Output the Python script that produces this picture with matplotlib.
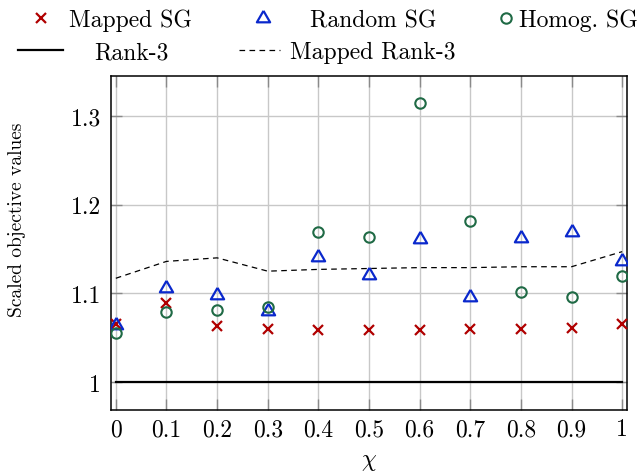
import matplotlib
matplotlib.use("Agg")
import matplotlib.pyplot as plt
from matplotlib.lines import Line2D

plt.rcParams['font.family'] = ['cmr10', 'DejaVu Serif']
plt.rcParams['mathtext.fontset'] = 'cm'
plt.rcParams['axes.unicode_minus'] = False

chi = [0.0, 0.1, 0.2, 0.3, 0.4, 0.5, 0.6, 0.7, 0.8, 0.9, 1.0]
mapped_sg = [1.065, 1.089, 1.063, 1.060, 1.059, 1.059, 1.059, 1.060, 1.060, 1.061, 1.065]
random_sg = [1.064, 1.106, 1.098, 1.080, 1.141, 1.121, 1.161, 1.096, 1.162, 1.169, 1.137]
homog_sg = [1.055, 1.079, 1.081, 1.085, 1.169, 1.164, 1.314, 1.182, 1.102, 1.096, 1.119]
rank3 = [1.0] * 11
mapped_rank3 = [1.117, 1.136, 1.140, 1.125, 1.127, 1.128, 1.129, 1.129, 1.130, 1.130, 1.147]

xticks = [0, 0.1, 0.2, 0.3, 0.4, 0.5, 0.6, 0.7, 0.8, 0.9, 1.0]
xticklabels = ['0', '0.1', '0.2', '0.3', '0.4', '0.5', '0.6', '0.7', '0.8', '0.9', '1']
yticks = [1.0, 1.1, 1.2, 1.3]
yticklabels = ['1', '1.1', '1.2', '1.3']

RED = '#b00000'
BLUE = '#0a28cc'
GREEN = '#1f6a45'
TRI = [(0, 1), (-0.866, -0.5), (0.866, -0.5), (0, 1)]

W, H = 639, 477
fig = plt.figure(figsize=(W / 100, H / 100), dpi=100)
ax = fig.add_axes([111 / W, (H - 411) / H, (627 - 111) / W, (411 - 76.7) / H])

mk_x = dict(ls='none', marker='x', ms=7, mew=1.6, color=RED)
mk_t = dict(ls='none', marker=TRI, ms=11, mew=1.6, mfc='none', mec=BLUE)
mk_o = dict(ls='none', marker='o', ms=7.5, mew=1.5, mfc='none', mec=GREEN)
ln_r = dict(color='black', lw=1.6)
ln_m = dict(color='black', lw=0.9, ls=(0, (4.5, 3.5)))

ax.plot(chi, rank3, zorder=3, **ln_r)
ax.plot(chi, mapped_rank3, zorder=3, **ln_m)
ax.plot(chi, mapped_sg, zorder=4, **mk_x)
ax.plot(chi, random_sg, zorder=5, **mk_t)
ax.plot(chi, homog_sg, zorder=6, **mk_o)

ax.set_xlim(-0.0095, 1.0095)
ax.set_ylim(0.9686, 1.3452)
ax.set_xticks(xticks)
ax.set_xticklabels(xticklabels)
ax.set_yticks(yticks)
ax.set_yticklabels(yticklabels)
ax.grid(True, color='#c8c8c8', lw=1.0)
ax.set_axisbelow(True)
ax.tick_params(direction='in', length=8, width=1, color='#8a8a8a', labelsize=17,
               top=True, right=True, pad=6)
ax.tick_params(axis='y', pad=7)
for s in ax.spines.values():
    s.set_linewidth(1.1)
    s.set_color('black')

ax.set_xlabel(r'$\chi$', fontsize=17, va='center')
ax.xaxis.set_label_coords(0.5, (411 - 462) / 334.3)
ax.set_ylabel('Scaled objective values', fontsize=14, va='center')
ax.yaxis.set_label_coords((17 - 111) / 516, (411 - 220) / 334.3)

fs = 17
em = fs * 100 / 72.0

def add_entry(handle, label, x0, x1, text_x, yc):
    hl = (x1 - x0) / em
    pad = (text_x - x1) / em
    leg = fig.legend([handle], [label], loc='center left',
                     bbox_to_anchor=(x0 / W, 1 - yc / H), frameon=False,
                     borderpad=0, borderaxespad=0, handlelength=hl,
                     handletextpad=pad, fontsize=fs, handleheight=0.7)
    return leg

add_entry(Line2D([], [], **mk_x), 'Mapped SG', 33, 49, 69, 21)
add_entry(Line2D([], [], **mk_t), 'Random SG', 255, 271, 310, 21)
add_entry(Line2D([], [], **mk_o), 'Homog. SG', 498, 514, 519, 21)
add_entry(Line2D([], [], **ln_r), 'Rank-3', 18, 63, 94, 53)
add_entry(Line2D([], [], **ln_m), 'Mapped Rank-3', 239, 280, 290, 53)

fig.savefig('out.png', dpi=100)
